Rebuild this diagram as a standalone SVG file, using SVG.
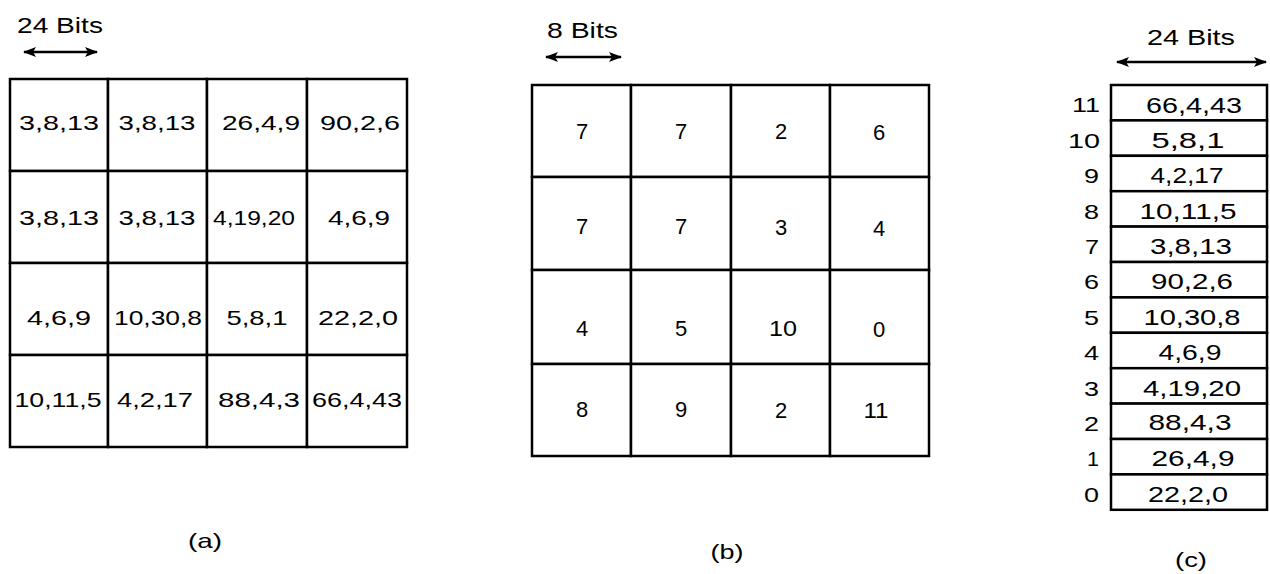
<svg xmlns="http://www.w3.org/2000/svg" width="1270" height="574" viewBox="0 0 1270 574">
<style>
.bg{fill:#fff}
.cell{fill:#fff;stroke:#000;stroke-width:2.5}
.t{font-family:"Liberation Sans",Arial,sans-serif;fill:#000;text-anchor:middle}
.a{font-size:21px}
.b{font-size:22px}
.c{font-size:22px}
.n{font-family:"Liberation Sans",Arial,sans-serif;font-size:21px;fill:#000;text-anchor:end}
.lbl{font-family:"Liberation Sans",Arial,sans-serif;font-size:22px;fill:#000}
.cap{font-family:"Liberation Sans",Arial,sans-serif;font-size:21px;fill:#000;text-anchor:middle}
.arr{stroke:#000;stroke-width:2.4;fill:none;marker-start:url(#ah);marker-end:url(#ah)}
</style>
<defs>
<marker id="ah" viewBox="0 0 13 10" refX="12" refY="5" markerWidth="13" markerHeight="10" markerUnits="userSpaceOnUse" orient="auto-start-reverse">
<path d="M0,0 L13,5 L0,10 L3,5 Z" fill="#000"/>
</marker>
</defs>
<rect class="bg" x="0" y="0" width="1270" height="574"/>

<g id="panel-a">
<text class="lbl" x="17" y="33" textLength="86" lengthAdjust="spacingAndGlyphs">24 Bits</text>
<g id="a-r1c1"><rect class="cell" x="10" y="79" width="98" height="92"/><text class="t a" x="59" y="130" textLength="80" lengthAdjust="spacingAndGlyphs">3,8,13</text></g>
<g id="a-r1c2"><rect class="cell" x="108" y="79" width="99" height="92"/><text class="t a" x="157" y="130" textLength="77" lengthAdjust="spacingAndGlyphs">3,8,13</text></g>
<g id="a-r1c3"><rect class="cell" x="207" y="79" width="100" height="92"/><text class="t a" x="261" y="130" textLength="78" lengthAdjust="spacingAndGlyphs">26,4,9</text></g>
<g id="a-r1c4"><rect class="cell" x="307" y="79" width="100" height="92"/><text class="t a" x="360" y="130" textLength="80" lengthAdjust="spacingAndGlyphs">90,2,6</text></g>
<g id="a-r2c1"><rect class="cell" x="10" y="171" width="98" height="92"/><text class="t a" x="59" y="225" textLength="80" lengthAdjust="spacingAndGlyphs">3,8,13</text></g>
<g id="a-r2c2"><rect class="cell" x="108" y="171" width="99" height="92"/><text class="t a" x="157" y="225" textLength="77" lengthAdjust="spacingAndGlyphs">3,8,13</text></g>
<g id="a-r2c3"><rect class="cell" x="207" y="171" width="100" height="92"/><text class="t a" x="254" y="225" textLength="82" lengthAdjust="spacingAndGlyphs">4,19,20</text></g>
<g id="a-r2c4"><rect class="cell" x="307" y="171" width="100" height="92"/><text class="t a" x="359" y="225" textLength="62" lengthAdjust="spacingAndGlyphs">4,6,9</text></g>
<g id="a-r3c1"><rect class="cell" x="10" y="263" width="98" height="92"/><text class="t a" x="59" y="325" textLength="64" lengthAdjust="spacingAndGlyphs">4,6,9</text></g>
<g id="a-r3c2"><rect class="cell" x="108" y="263" width="99" height="92"/><text class="t a" x="158" y="325" textLength="88" lengthAdjust="spacingAndGlyphs">10,30,8</text></g>
<g id="a-r3c3"><rect class="cell" x="207" y="263" width="100" height="92"/><text class="t a" x="257" y="325" textLength="61" lengthAdjust="spacingAndGlyphs">5,8,1</text></g>
<g id="a-r3c4"><rect class="cell" x="307" y="263" width="100" height="92"/><text class="t a" x="358" y="325" textLength="80" lengthAdjust="spacingAndGlyphs">22,2,0</text></g>
<g id="a-r4c1"><rect class="cell" x="10" y="355" width="98" height="92"/><text class="t a" x="58" y="407" textLength="87" lengthAdjust="spacingAndGlyphs">10,11,5</text></g>
<g id="a-r4c2"><rect class="cell" x="108" y="355" width="99" height="92"/><text class="t a" x="155" y="407" textLength="76" lengthAdjust="spacingAndGlyphs">4,2,17</text></g>
<g id="a-r4c3"><rect class="cell" x="207" y="355" width="100" height="92"/><text class="t a" x="259" y="407" textLength="82" lengthAdjust="spacingAndGlyphs">88,4,3</text></g>
<g id="a-r4c4"><rect class="cell" x="307" y="355" width="100" height="92"/><text class="t a" x="357" y="407" textLength="90" lengthAdjust="spacingAndGlyphs">66,4,43</text></g>
<text class="cap" x="205" y="548" textLength="34" lengthAdjust="spacingAndGlyphs">(a)</text>
</g>

<g id="panel-b">
<text class="lbl" x="547" y="38" textLength="71" lengthAdjust="spacingAndGlyphs">8 Bits</text>
<g id="b-r1c1"><rect class="cell" x="532" y="85" width="99" height="92"/><text class="t b" x="582" y="139">7</text></g>
<g id="b-r1c2"><rect class="cell" x="631" y="85" width="100" height="92"/><text class="t b" x="681" y="139">7</text></g>
<g id="b-r1c3"><rect class="cell" x="731" y="85" width="99" height="92"/><text class="t b" x="781" y="139">2</text></g>
<g id="b-r1c4"><rect class="cell" x="830" y="85" width="99" height="92"/><text class="t b" x="879" y="140">6</text></g>
<g id="b-r2c1"><rect class="cell" x="532" y="177" width="99" height="93"/><text class="t b" x="582" y="234">7</text></g>
<g id="b-r2c2"><rect class="cell" x="631" y="177" width="100" height="93"/><text class="t b" x="681" y="234">7</text></g>
<g id="b-r2c3"><rect class="cell" x="731" y="177" width="99" height="93"/><text class="t b" x="781" y="235">3</text></g>
<g id="b-r2c4"><rect class="cell" x="830" y="177" width="99" height="93"/><text class="t b" x="879" y="236">4</text></g>
<g id="b-r3c1"><rect class="cell" x="532" y="270" width="99" height="94"/><text class="t b" x="582" y="336">4</text></g>
<g id="b-r3c2"><rect class="cell" x="631" y="270" width="100" height="94"/><text class="t b" x="681" y="336">5</text></g>
<g id="b-r3c3"><rect class="cell" x="731" y="270" width="99" height="94"/><text class="t b" x="783" y="336" textLength="28" lengthAdjust="spacingAndGlyphs">10</text></g>
<g id="b-r3c4"><rect class="cell" x="830" y="270" width="99" height="94"/><text class="t b" x="879" y="337">0</text></g>
<g id="b-r4c1"><rect class="cell" x="532" y="364" width="99" height="92"/><text class="t b" x="582" y="417">8</text></g>
<g id="b-r4c2"><rect class="cell" x="631" y="364" width="100" height="92"/><text class="t b" x="681" y="417">9</text></g>
<g id="b-r4c3"><rect class="cell" x="731" y="364" width="99" height="92"/><text class="t b" x="781" y="418">2</text></g>
<g id="b-r4c4"><rect class="cell" x="830" y="364" width="99" height="92"/><text class="t b" x="876" y="418" textLength="25" lengthAdjust="spacingAndGlyphs">11</text></g>
<text class="cap" x="727" y="559" textLength="33" lengthAdjust="spacingAndGlyphs">(b)</text>
</g>

<g id="panel-c">
<text class="lbl" x="1147" y="45" textLength="88" lengthAdjust="spacingAndGlyphs">24 Bits</text>
<g id="c-11"><rect class="cell" x="1111" y="85" width="156" height="35.4"/><text class="n" x="1100" y="112" textLength="28" lengthAdjust="spacingAndGlyphs">11</text><text class="t c" x="1194" y="113" textLength="96" lengthAdjust="spacingAndGlyphs">66,4,43</text></g>
<g id="c-10"><rect class="cell" x="1111" y="120.4" width="156" height="35.4"/><text class="n" x="1100" y="147.5" textLength="32" lengthAdjust="spacingAndGlyphs">10</text><text class="t c" x="1188" y="147.5" textLength="73" lengthAdjust="spacingAndGlyphs">5,8,1</text></g>
<g id="c-9"><rect class="cell" x="1111" y="155.8" width="156" height="35.4"/><text class="n" x="1099" y="183" textLength="15" lengthAdjust="spacingAndGlyphs">9</text><text class="t c" x="1187" y="183" textLength="73" lengthAdjust="spacingAndGlyphs">4,2,17</text></g>
<g id="c-8"><rect class="cell" x="1111" y="191.2" width="156" height="35.4"/><text class="n" x="1099" y="218.5" textLength="15" lengthAdjust="spacingAndGlyphs">8</text><text class="t c" x="1188" y="218.5" textLength="97" lengthAdjust="spacingAndGlyphs">10,11,5</text></g>
<g id="c-7"><rect class="cell" x="1111" y="226.6" width="156" height="35.4"/><text class="n" x="1099" y="254" textLength="14" lengthAdjust="spacingAndGlyphs">7</text><text class="t c" x="1191" y="254" textLength="82" lengthAdjust="spacingAndGlyphs">3,8,13</text></g>
<g id="c-6"><rect class="cell" x="1111" y="262" width="156" height="35.4"/><text class="n" x="1099" y="289" textLength="15" lengthAdjust="spacingAndGlyphs">6</text><text class="t c" x="1192" y="289" textLength="82" lengthAdjust="spacingAndGlyphs">90,2,6</text></g>
<g id="c-5"><rect class="cell" x="1111" y="297.4" width="156" height="35.4"/><text class="n" x="1099" y="325" textLength="15" lengthAdjust="spacingAndGlyphs">5</text><text class="t c" x="1192" y="325" textLength="97" lengthAdjust="spacingAndGlyphs">10,30,8</text></g>
<g id="c-4"><rect class="cell" x="1111" y="332.8" width="156" height="35.4"/><text class="n" x="1099" y="360" textLength="15" lengthAdjust="spacingAndGlyphs">4</text><text class="t c" x="1190" y="360" textLength="63" lengthAdjust="spacingAndGlyphs">4,6,9</text></g>
<g id="c-3"><rect class="cell" x="1111" y="368.2" width="156" height="35.4"/><text class="n" x="1099" y="395.5" textLength="15" lengthAdjust="spacingAndGlyphs">3</text><text class="t c" x="1192" y="395.5" textLength="98" lengthAdjust="spacingAndGlyphs">4,19,20</text></g>
<g id="c-2"><rect class="cell" x="1111" y="403.6" width="156" height="35.4"/><text class="n" x="1099" y="431" textLength="15" lengthAdjust="spacingAndGlyphs">2</text><text class="t c" x="1190" y="430" textLength="83" lengthAdjust="spacingAndGlyphs">88,4,3</text></g>
<g id="c-1"><rect class="cell" x="1111" y="439" width="156" height="35.4"/><text class="n" x="1099" y="466" textLength="12" lengthAdjust="spacingAndGlyphs">1</text><text class="t c" x="1193" y="466" textLength="83" lengthAdjust="spacingAndGlyphs">26,4,9</text></g>
<g id="c-0"><rect class="cell" x="1111" y="474.4" width="156" height="35.4"/><text class="n" x="1099" y="502" textLength="15" lengthAdjust="spacingAndGlyphs">0</text><text class="t c" x="1188" y="502" textLength="80" lengthAdjust="spacingAndGlyphs">22,2,0</text></g>
<text class="cap" x="1191" y="567" textLength="32" lengthAdjust="spacingAndGlyphs">(c)</text>
</g>

<g id="connectors">
<line class="arr" x1="24" y1="52" x2="97" y2="52"/>
<line class="arr" x1="546" y1="57" x2="621" y2="57"/>
<line class="arr" x1="1117" y1="62" x2="1266" y2="62"/>
</g>
</svg>
